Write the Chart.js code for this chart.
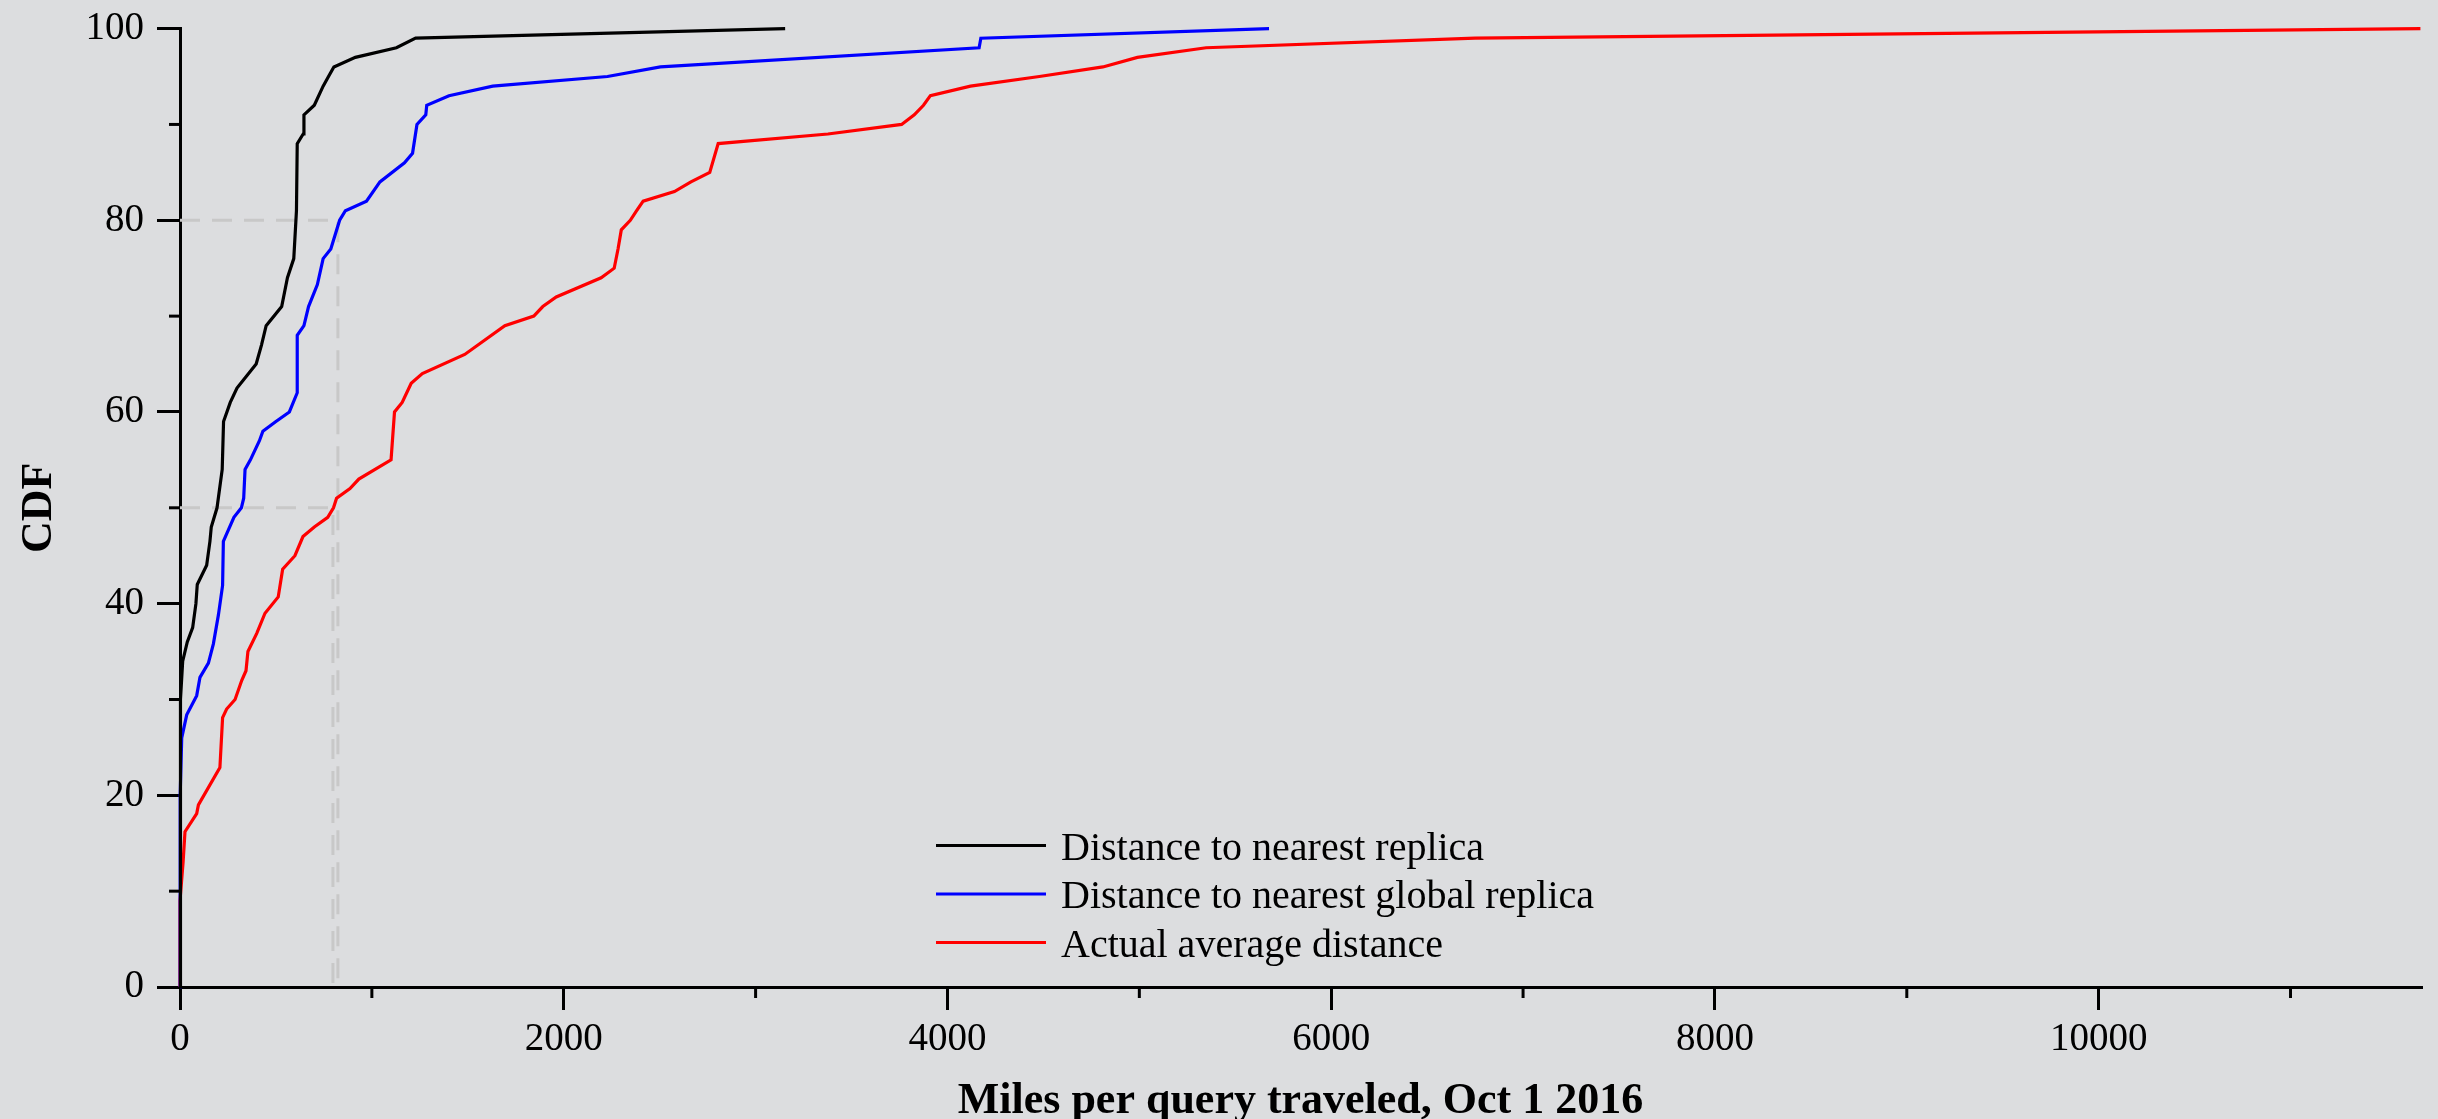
<!DOCTYPE html>
<html lang="en">
<head>
    <meta charset="UTF-8">
    <title>CDF of miles per query</title>
    <script src="https://cdn.jsdelivr.net/npm/chart.js"></script>
    <style>
        body {
            margin: 0;
            background-color: #dcdddf;
        }
        canvas {
            display: block;
        }
    </style>
</head>
<body>
    <canvas id="cdfChart" width="2438" height="1119"></canvas>

    <script>
        // values (miles, CDF %)
        const nearestMiles = [0, 0, 5, 14, 38, 66, 83, 90, 139, 156, 163, 193, 220, 227, 262, 297, 397, 425, 449, 530, 560, 593, 607, 611, 642, 646, 700, 746, 774, 802, 914, 1128, 1228, 3154];
        const nearestCdf = [0, 20, 30, 34, 36, 37.5, 40, 42, 44, 46.5, 48, 50, 54, 59, 61, 62.5, 65, 67, 69, 71, 74, 76, 81, 88, 89, 91, 92, 94, 95, 96, 97, 98, 99, 100];

        const globalMiles = [0, 0, 2, 9, 35, 87, 104, 148, 174, 200, 222, 226, 281, 320, 332, 339, 367, 414, 432, 500, 570, 611, 611, 646, 670, 716, 746, 786, 832, 862, 972, 1042, 1170, 1212, 1235, 1281, 1286, 1402, 1630, 2228, 2504, 4165, 4174, 5676];
        const globalCdf = [0, 12, 20, 26, 28.4, 30.4, 32.3, 33.8, 35.8, 38.8, 41.9, 46.5, 49, 50, 51, 54, 55, 57, 58, 59, 60, 62, 68, 69, 71, 73.3, 76, 77, 80, 81, 82, 84, 86, 87, 90, 91, 92, 93, 94, 95, 96, 98, 99, 100];

        const actualMiles = [0, 0, 16, 26, 87, 96, 208, 222, 243, 287, 322, 344, 354, 400, 443, 512, 535, 599, 641, 700, 770, 800, 816, 886, 932, 1100, 1118, 1158, 1205, 1263, 1484, 1693, 1844, 1891, 1961, 2195, 2263, 2283, 2300, 2347, 2380, 2414, 2577, 2663, 2761, 2805, 3377, 3761, 3827, 3875, 3911, 4120, 4479, 4810, 4990, 5348, 6750, 11677];
        const actualCdf = [0, 9, 13, 16.2, 18.1, 19, 22.9, 28.1, 29, 30, 32, 33, 35, 36.9, 39, 40.7, 43.6, 45, 47, 48, 49, 50, 51, 52, 53, 55, 60, 61, 63, 64, 66, 69, 70, 71, 72, 74, 75, 77, 79, 80, 81, 82, 83, 84, 85, 88, 89, 90, 91, 92, 93, 94, 95, 96, 97, 98, 99, 100];

        // dashed guides: 80th pct of global replica, median of actual distance
        const guideMiles = [823, 797];
        const guideCdf = [80, 50];

        // tick positions (every one gets a mark, only the labelled ones get text)
        const xTicks = [0, 1000, 2000, 3000, 4000, 5000, 6000, 7000, 8000, 9000, 10000, 11000];
        const xLabelled = [0, 2000, 4000, 6000, 8000, 10000];
        const yTicks = [0, 10, 20, 30, 40, 50, 60, 70, 80, 90, 100];
        const yLabelled = [0, 20, 40, 60, 80, 100];

        const seriesLabels = ["Distance to nearest replica", "Distance to nearest global replica", "Actual average distance"];
        const seriesColors = ["#000000", "#0000ff", "#ff0000"];

        const xMax = 11680;
        const fontFamily = "'Liberation Serif', 'Times New Roman', serif";

        function toPoints(xs, ys) {
            return xs.map((x, i) => ({ x: x, y: ys[i] }));
        }

        let datasets = [];
        [[nearestMiles, nearestCdf], [globalMiles, globalCdf], [actualMiles, actualCdf]].forEach((s, i) => {
            datasets.push({
                label: seriesLabels[i],
                data: toPoints(s[0], s[1]),
                borderColor: seriesColors[i],
                borderWidth: 3.2,
                pointRadius: 0,
                tension: 0,
                clip: 6,
                order: 0
            });
        });
        guideMiles.forEach((m, i) => {
            datasets.push({
                label: "",
                data: [{ x: 0, y: guideCdf[i] }, { x: m, y: guideCdf[i] }, { x: m, y: 0 }],
                borderColor: "#c8c8c8",
                borderWidth: 3,
                borderDash: [20, 12],
                pointRadius: 0,
                order: 5,
                isGuide: true
            });
        });

        // short minor ticks, drawn from the scales' own tick list
        const minorTicks = {
            id: "minorTicks",
            afterDraw(chart) {
                const c = chart.ctx;
                const xs = chart.scales.x, ys = chart.scales.y;
                c.save();
                c.strokeStyle = "#000";
                c.lineWidth = 3;
                xs.ticks.forEach(t => {
                    if (!xLabelled.includes(t.value)) {
                        let px = xs.getPixelForValue(t.value);
                        c.beginPath();
                        c.moveTo(px, xs.top);
                        c.lineTo(px, xs.top + 11);
                        c.stroke();
                    }
                });
                ys.ticks.forEach(t => {
                    if (!yLabelled.includes(t.value)) {
                        let py = ys.getPixelForValue(t.value);
                        c.beginPath();
                        c.moveTo(ys.right, py);
                        c.lineTo(ys.right - 11, py);
                        c.stroke();
                    }
                });
                c.restore();
            }
        };

        // legend sitting inside the plot area
        const insideLegend = {
            id: "insideLegend",
            afterDraw(chart) {
                const c = chart.ctx;
                const area = chart.chartArea;
                const x0 = area.left + 756;
                let y = area.top + 817;
                c.save();
                c.font = "40px " + fontFamily;
                c.textBaseline = "alphabetic";
                c.fillStyle = "#000";
                chart.data.datasets.forEach(ds => {
                    if (ds.isGuide) return;
                    c.strokeStyle = ds.borderColor;
                    c.lineWidth = 3;
                    c.beginPath();
                    c.moveTo(x0, y);
                    c.lineTo(x0 + 110, y);
                    c.stroke();
                    c.fillText(ds.label, x0 + 125, y + 14);
                    y += 48.5;
                });
                c.restore();
            }
        };

        const xTickFont = { family: fontFamily, size: 39 };
        const yTickFont = { family: fontFamily, size: 39, lineHeight: 0.8 };
        const titleFont = { family: fontFamily, size: 44, weight: "bold", lineHeight: 0.72 };

        let ctx = document.getElementById("cdfChart").getContext("2d");
        let cdfChart = new Chart(ctx, {
            type: "line",
            data: { datasets: datasets },
            options: {
                responsive: false,
                animation: false,
                layout: { padding: { top: 26, right: 17, left: 0, bottom: 0 } },
                plugins: {
                    legend: { display: false },
                    tooltip: { enabled: false }
                },
                scales: {
                    x: {
                        type: "linear",
                        min: 0,
                        max: xMax,
                        afterBuildTicks(scale) { scale.ticks = xTicks.map(v => ({ value: v })); },
                        afterFit(scale) { scale.height = 132; },
                        border: { display: true, color: "#000", width: 3 },
                        grid: {
                            display: true,
                            drawOnChartArea: false,
                            drawTicks: true,
                            tickLength: 23,
                            lineWidth: 3,
                            tickColor: c => (c.tick && xLabelled.includes(c.tick.value)) ? "#000" : "rgba(0,0,0,0)"
                        },
                        ticks: {
                            autoSkip: false,
                            maxRotation: 0,
                            padding: 6,
                            color: "#000",
                            font: xTickFont,
                            callback: v => (xLabelled.includes(v) ? String(v) : "")
                        },
                        title: {
                            display: true,
                            text: "Miles per query traveled, Oct 1 2016",
                            color: "#000",
                            font: titleFont,
                            padding: { top: 0, bottom: 2 }
                        }
                    },
                    y: {
                        min: 0,
                        max: 100,
                        afterBuildTicks(scale) { scale.ticks = yTicks.map(v => ({ value: v })); },
                        afterFit(scale) { scale.width = 180; },
                        border: { display: true, color: "#000", width: 3 },
                        grid: {
                            display: true,
                            drawOnChartArea: false,
                            drawTicks: true,
                            tickLength: 23,
                            lineWidth: 3,
                            tickColor: c => (c.tick && yLabelled.includes(c.tick.value)) ? "#000" : "rgba(0,0,0,0)"
                        },
                        ticks: {
                            autoSkip: false,
                            padding: 13,
                            color: "#000",
                            font: yTickFont,
                            callback: v => (yLabelled.includes(v) ? String(v) : "")
                        },
                        title: {
                            display: true,
                            text: "CDF",
                            color: "#000",
                            font: titleFont,
                            padding: { top: 24, bottom: 0 }
                        }
                    }
                }
            },
            plugins: [minorTicks, insideLegend]
        });
    </script>
</body>
</html>
